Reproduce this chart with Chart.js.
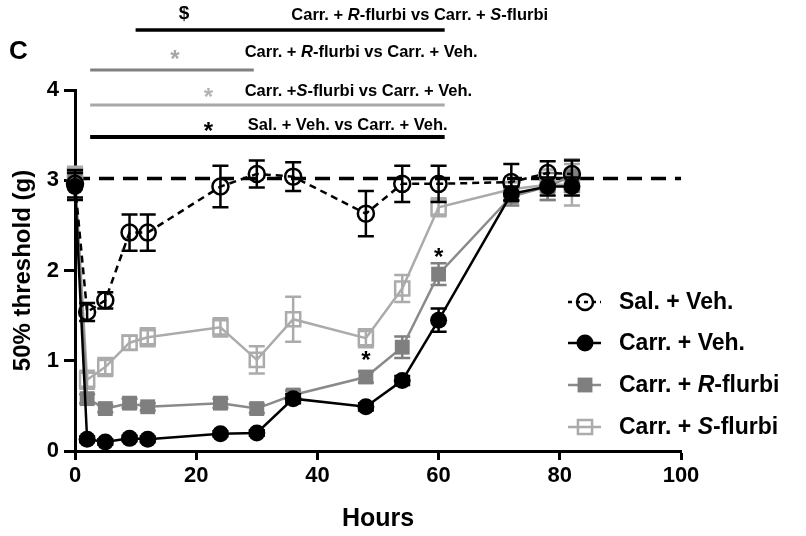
<!DOCTYPE html>
<html>
<head>
<meta charset="utf-8">
<script src="https://cdn.jsdelivr.net/npm/chart.js@4.4.0/dist/chart.umd.min.js"></script>
<style>
  html, body { margin: 0; padding: 0; background: #fff; }
  #wrap { width: 806px; height: 536px; }
  canvas { display: block; }
</style>
</head>
<body>
<div id="wrap"><canvas id="chart" width="806" height="536"></canvas></div>
<script>
// time points (hours) and group means / SEM
const hours = [0, 2, 5, 9, 12, 24, 30, 36, 48, 54, 60, 72, 78, 82];
const salVeh = [2.96, 1.54, 1.67, 2.42, 2.42, 2.93, 3.07, 3.04, 2.63, 2.96, 2.96, 2.98, 3.08, 3.07];
const salVehErr = [0.15, 0.1, 0.09, 0.2, 0.2, 0.23, 0.15, 0.16, 0.25, 0.2, 0.2, 0.2, 0.13, 0.15];
const carrVeh = [2.93, 0.13, 0.1, 0.14, 0.13, 0.19, 0.2, 0.58, 0.49, 0.78, 1.45, 2.85, 2.93, 2.93];
const carrVehErr = [0.15, 0.03, 0.03, 0.03, 0.03, 0.03, 0.03, 0.05, 0.04, 0.05, 0.13, 0.08, 0.1, 0.1];
const carrR = [3.02, 0.58, 0.47, 0.53, 0.49, 0.53, 0.47, 0.62, 0.82, 1.15, 1.96, 2.82, 2.93, 3.05];
const carrRErr = [0.1, 0.05, 0.04, 0.05, 0.04, 0.05, 0.05, 0.05, 0.06, 0.12, 0.12, 0.1, 0.15, 0.18];
const carrS = [3.05, 0.79, 0.93, 1.2, 1.26, 1.37, 1.01, 1.46, 1.25, 1.8, 2.7, 2.9, 2.95, 2.95];
const carrSErr = [0.1, 0.1, 0.1, 0.08, 0.1, 0.1, 0.15, 0.25, 0.1, 0.15, 0.1, 0.08, 0.17, 0.23];

// baseline dashed line
const baselineX = [0, 100];
const baselineY = 3.02;

// asterisks above R-flurbi points
const starHours = [48, 60];

// significance bars above the plot (hours)
const sigFrom = [10, 2.5, 2.5, 2.5];
const sigTo = [61, 29.5, 61, 61];
const sigMark = ['$', '*', '*', '*'];
const sigMarkAt = [18, 16.5, 22, 22];
const sigTextAt = [35.7, 28, 28, 28.5];
const sigText = [
  'Carr. + _R_-flurbi vs Carr. + _S_-flurbi',
  'Carr. + _R_-flurbi vs Carr. + Veh.',
  'Carr. +_S_-flurbi vs Carr. + Veh.',
  'Sal. + Veh. vs Carr. + Veh.'
];

const legendText = ['Sal. + Veh.', 'Carr. + Veh.', 'Carr. + _R_-flurbi', 'Carr. + _S_-flurbi'];

const FONT = '"Liberation Sans", Arial, sans-serif';
const GREY = '#7f7f7f';
const LIGHT = '#ababab';

const pts = (ys) => hours.map((h, i) => ({ x: h, y: ys[i] }));

// draw text with _italic_ parts
function richText(ctx, str, x, y, size) {
  str.split('_').forEach((part, i) => {
    ctx.font = (i % 2 ? 'italic ' : '') + 'bold ' + size + 'px ' + FONT;
    ctx.fillText(part, x, y);
    x += ctx.measureText(part).width;
  });
}

function marker(ctx, ds, x, y) {
  ctx.save();
  ctx.lineWidth = ds.pointBorderWidth;
  ctx.strokeStyle = ds.pointBorderColor;
  ctx.fillStyle = ds.pointBackgroundColor;
  ctx.beginPath();
  if (ds.pointStyle === 'rect') {
    const s = ds.pointRadius * Math.SQRT1_2;
    ctx.rect(x - s, y - s, 2 * s, 2 * s);
  } else {
    ctx.arc(x, y, ds.pointRadius, 0, Math.PI * 2);
  }
  ctx.fill();
  if (ds.pointBorderWidth) ctx.stroke();
  ctx.restore();
}

const extras = {
  id: 'extras',
  beforeDatasetDraw(chart, args) {
    const ds = chart.data.datasets[args.index];
    if (!ds.err) return;
    const { ctx, scales: { x, y } } = chart;
    ctx.save();
    ctx.strokeStyle = ds.errColor;
    ctx.lineWidth = 2.5;
    ds.data.forEach((p, i) => {
      const px = x.getPixelForValue(p.x);
      const top = y.getPixelForValue(p.y + ds.err[i]);
      const bot = y.getPixelForValue(p.y - ds.err[i]);
      ctx.beginPath();
      ctx.moveTo(px, top); ctx.lineTo(px, bot);
      ctx.moveTo(px - 8, top); ctx.lineTo(px + 8, top);
      ctx.moveTo(px - 8, bot); ctx.lineTo(px + 8, bot);
      ctx.stroke();
    });
    ctx.restore();
  },
  afterDraw(chart) {
    const { ctx, scales: { x, y } } = chart;
    ctx.save();
    ctx.textBaseline = 'middle';
    ctx.textAlign = 'left';

    // panel letter
    ctx.fillStyle = '#000';
    ctx.font = 'bold 26px ' + FONT;
    ctx.fillText('C', 9, 52);

    // significance bars
    const lineY = [30, 70, 105, 137];
    const markY = [14, 55, 93, 127];
    const textY = [15, 52, 91, 125];
    const lineCol = ['#000', '#808080', '#a8a8a8', '#000'];
    const markCol = ['#000', '#a6a6a6', '#b3b3b3', '#000'];
    const lineW = [3.5, 3, 3, 4];
    sigFrom.forEach((f, i) => {
      ctx.strokeStyle = lineCol[i];
      ctx.lineWidth = lineW[i];
      ctx.beginPath();
      ctx.moveTo(x.getPixelForValue(f), lineY[i]);
      ctx.lineTo(x.getPixelForValue(sigTo[i]), lineY[i]);
      ctx.stroke();
      ctx.fillStyle = markCol[i];
      ctx.textAlign = 'center';
      if (sigMark[i] === '$') {
        ctx.font = 'bold 19px ' + FONT;
        ctx.fillText('$', x.getPixelForValue(sigMarkAt[i]), markY[i]);
      } else {
        ctx.font = 'bold 24px ' + FONT;
        ctx.fillText('*', x.getPixelForValue(sigMarkAt[i]), markY[i] + 5);
      }
      ctx.textAlign = 'left';
      ctx.fillStyle = '#000';
      richText(ctx, sigText[i], x.getPixelForValue(sigTextAt[i]), textY[i], 16.5);
    });

    // asterisks above R-flurbi points
    ctx.textAlign = 'center';
    ctx.font = 'bold 24px ' + FONT;
    starHours.forEach(h => {
      const v = carrR[hours.indexOf(h)];
      ctx.fillText('*', x.getPixelForValue(h), y.getPixelForValue(v) - 16);
    });
    ctx.textAlign = 'left';

    // legend
    const rows = [302, 343, 385, 427];
    chart.data.datasets.slice(0, 4).forEach((ds, i) => {
      const ry = rows[i];
      ctx.save();
      ctx.strokeStyle = ds.borderColor;
      ctx.lineWidth = ds.borderWidth;
      if (ds.borderDash) ctx.setLineDash([4, 4]);
      ctx.beginPath();
      ctx.moveTo(568, ry); ctx.lineTo(601, ry);
      ctx.stroke();
      ctx.restore();
      marker(ctx, ds, 585, ry);
      ctx.fillStyle = '#000';
      richText(ctx, legendText[i], 619, ry + 1, 23);
    });
    ctx.restore();
  }
};

new Chart(document.getElementById('chart'), {
  type: 'line',
  data: {
    datasets: [
      {
        label: 'Sal. + Veh.', data: pts(salVeh), err: salVehErr, errColor: '#000',
        borderColor: '#000', borderWidth: 2.5, borderDash: [7, 5],
        pointStyle: 'circle', pointRadius: 8, pointBorderWidth: 2.5,
        pointBorderColor: '#000', pointBackgroundColor: 'rgba(255,255,255,0)'
      },
      {
        label: 'Carr. + Veh.', data: pts(carrVeh), err: carrVehErr, errColor: '#000',
        borderColor: '#000', borderWidth: 2.5,
        pointStyle: 'circle', pointRadius: 8.5, pointBorderWidth: 0,
        pointBorderColor: '#000', pointBackgroundColor: '#000'
      },
      {
        label: 'Carr. + R-flurbi', data: pts(carrR), err: carrRErr, errColor: GREY,
        borderColor: '#8a8a8a', borderWidth: 2.5,
        pointStyle: 'rect', pointRadius: 10.5, pointBorderWidth: 0,
        pointBorderColor: GREY, pointBackgroundColor: GREY
      },
      {
        label: 'Carr. + S-flurbi', data: pts(carrS), err: carrSErr, errColor: LIGHT,
        borderColor: LIGHT, borderWidth: 2.5,
        pointStyle: 'rect', pointRadius: 10, pointBorderWidth: 2.5,
        pointBorderColor: LIGHT, pointBackgroundColor: 'rgba(255,255,255,0)'
      },
      {
        label: 'baseline', data: baselineX.map(h => ({ x: h, y: baselineY })),
        borderColor: '#000', borderWidth: 3.5, borderDash: [15, 9], pointRadius: 0
      }
    ]
  },
  options: {
    responsive: false,
    animation: false,
    clip: false,
    layout: { padding: { top: 90, right: 125, left: 0, bottom: 0 } },
    plugins: { legend: { display: false }, tooltip: { enabled: false } },
    elements: { line: { tension: 0 } },
    scales: {
      x: {
        type: 'linear', min: 0, max: 100,
        afterFit: s => { s.height = 85; },
        grid: { drawOnChartArea: false, drawTicks: true, tickLength: 9, tickWidth: 3, tickColor: '#000' },
        border: { color: '#000', width: 3 },
        ticks: { stepSize: 20, color: '#000', padding: 3, font: { family: FONT, size: 22, weight: 'bold' } },
        title: { display: true, text: 'Hours', color: '#000', padding: { top: 0, bottom: 2 },
                 font: { family: FONT, size: 25, weight: 'bold' } }
      },
      y: {
        min: 0, max: 4,
        afterFit: s => { s.width = 75; },
        grid: { drawOnChartArea: false, drawTicks: true, tickLength: 11, tickWidth: 3, tickColor: '#000' },
        border: { color: '#000', width: 3 },
        ticks: { stepSize: 1, color: '#000', padding: 5, font: { family: FONT, size: 22, weight: 'bold' } },
        title: { display: true, text: '50% threshold (g)', color: '#000', padding: { top: 9, bottom: 0 },
                 font: { family: FONT, size: 24, weight: 'bold' } }
      }
    }
  },
  plugins: [extras]
});
</script>
</body>
</html>
